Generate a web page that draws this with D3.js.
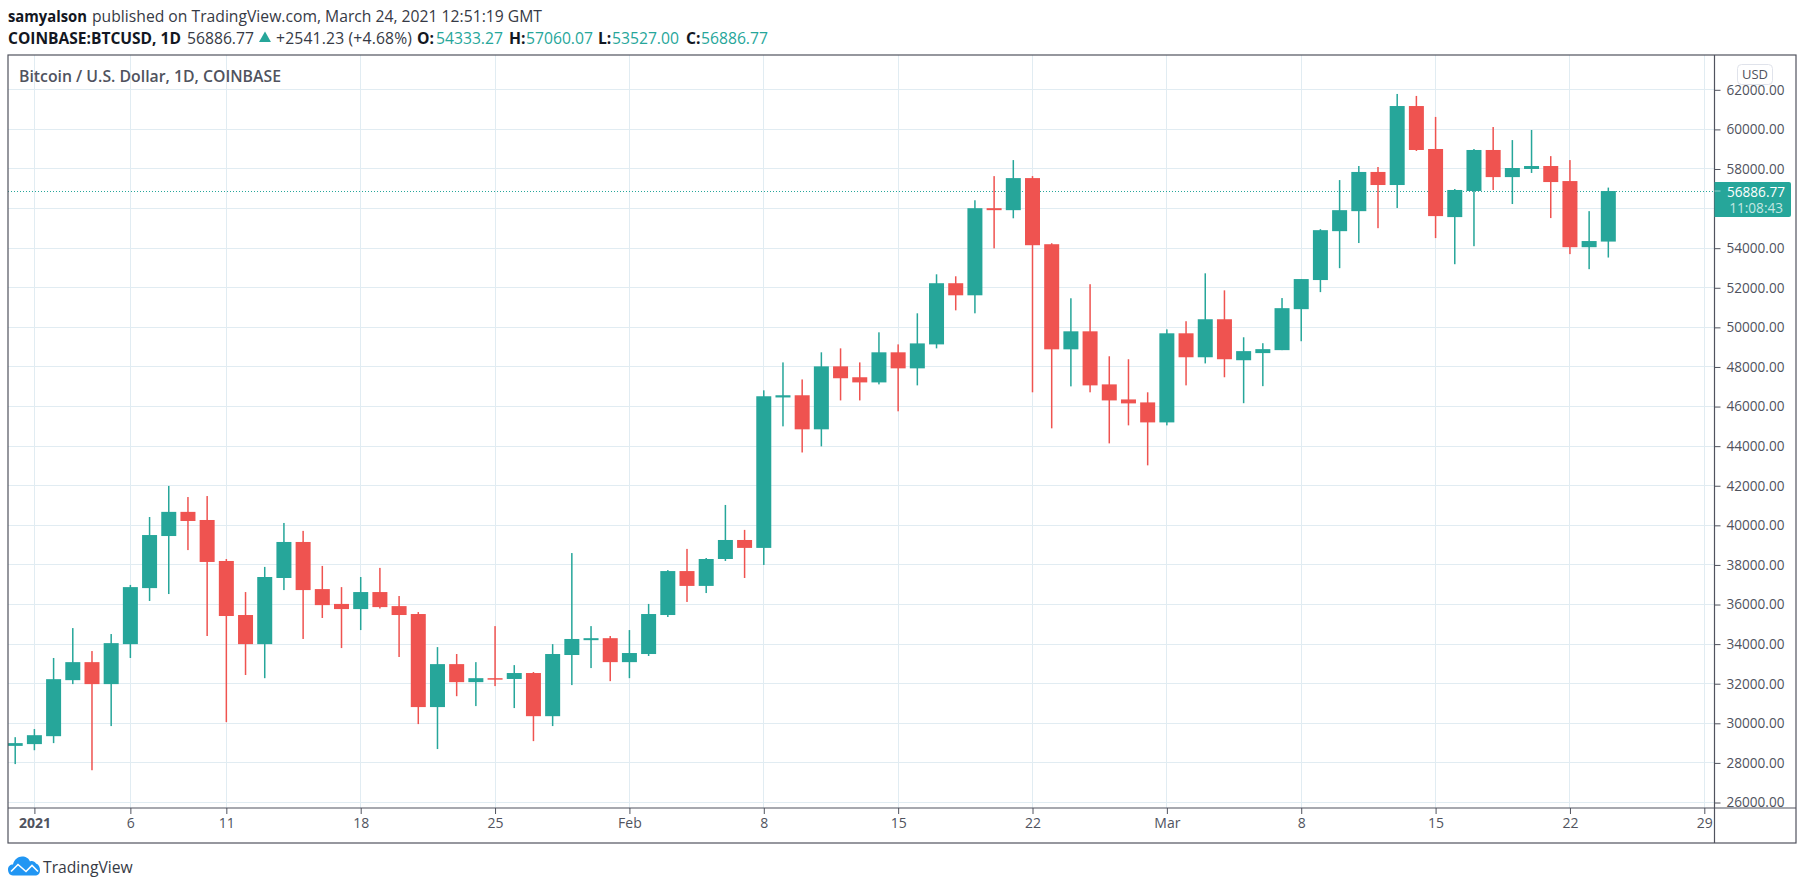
<!DOCTYPE html>
<html>
<head>
<meta charset="utf-8">
<title>BTCUSD</title>
<script src="https://d3js.org/d3.v7.min.js"></script>
<style>
  html, body { margin: 0; padding: 0; background: #fff; }
  svg { display: block; }
  text { font-family: "Open Sans", sans-serif; }
</style>
</head>
<body>
<svg id="chart" width="1805" height="890"></svg>
<script>
// Daily candles, 31 Dec 2020 to 24 Mar 2021, one entry per day
const firstDay = "2020-12-31";
const opens = [
  28860, 28950, 29350, 32180, 33090, 31980, 34000, 36830, 39460, 40680, 40270, 38200, 35470, 34000, 37340, 39160,
  36780, 36030, 35770, 36630, 35920, 35520, 30820, 32990, 32080, 32280, 32240, 32540, 30360, 33450, 34200, 34300,
  33090, 33500, 35470, 37690, 36940, 38300, 39260, 38860, 46460, 46570, 44850, 48030, 47480, 47220, 48740, 47930,
  49140, 52230, 51620, 56020, 55920, 57540, 54200, 48890, 49800, 47120, 46360, 46210, 45200, 49700, 48490, 50410,
  48340, 48700, 48850, 50920, 52390, 54860, 55870, 57850, 57190, 61180, 59010, 55570, 56890, 58960, 57590, 58000,
  58150, 57390, 54050, 54333.27
];
const highs = [
  29300, 29710, 33300, 34810, 33650, 34510, 36990, 40420, 41990, 41430, 41480, 38300, 36630, 37900, 40120, 39720,
  37950, 36880, 37390, 37850, 36430, 35620, 33850, 33500, 33090, 34910, 32940, 32590, 34000, 38600, 34910, 34410,
  34710, 36030, 37740, 38810, 38350, 41030, 39770, 46820, 48230, 47370, 48740, 48940, 48230, 49750, 49140, 50710,
  52680, 52580, 56420, 57640, 58450, 57640, 54250, 51470, 52180, 48540, 48390, 46720, 49900, 50310, 52730, 51870,
  49500, 49200, 51480, 52440, 54960, 57440, 58150, 58100, 61790, 61690, 60630, 56990, 59010, 60120, 59460, 59970,
  58650, 58450, 55870, 57060.07
];
const lows = [
  27940, 28640, 29000, 31980, 27630, 29860, 33300, 36180, 36530, 38750, 34410, 30060, 32440, 32280, 36730, 34260,
  35320, 33800, 34710, 35800, 33350, 29960, 28700, 31370, 30870, 31880, 30770, 29100, 29860, 31930, 32790, 32130,
  32280, 33400, 35370, 36130, 36580, 38200, 37340, 38000, 45000, 43680, 43990, 46310, 46310, 47120, 45760, 47070,
  48940, 50860, 50710, 53990, 55510, 46720, 44900, 47020, 46720, 44140, 45050, 43030, 45050, 47070, 48180, 47480,
  46170, 47030, 48850, 49300, 51780, 52990, 54260, 55010, 56030, 58910, 54510, 53190, 54100, 56940, 56230, 57800,
  55520, 53700, 52940, 53527
];
const closes = [
  29000, 29400, 32230, 33090, 31980, 34050, 36880, 39510, 40680, 40220, 38150, 35420, 34000, 37390, 39160, 36730,
  35970, 35770, 36630, 35870, 35470, 30820, 32990, 32080, 32280, 32230, 32540, 30360, 33500, 34260, 34300, 33090,
  33550, 35520, 37690, 36940, 38300, 39260, 38860, 46520, 46570, 44850, 48030, 47430, 47220, 48740, 47930, 49190,
  52230, 51620, 56020, 55920, 57540, 54150, 48890, 49800, 47070, 46310, 46160, 45200, 49700, 48490, 50410, 48390,
  48800, 48900, 50970, 52440, 54910, 55920, 57850, 57190, 61180, 58960, 55620, 56940, 58960, 57590, 58050, 58150,
  57340, 54050, 54360, 56886.77
];

const priceTicks = [26000, 28000, 30000, 32000, 34000, 36000, 38000, 40000, 42000, 44000, 46000, 48000, 50000, 52000, 54000, 56000, 58000, 60000, 62000];
const priceLabels = [26000, 28000, 30000, 32000, 34000, 36000, 38000, 40000, 42000, 44000, 46000, 48000, 50000, 52000, 54000, 58000, 60000, 62000];
const dateTicks = ["2021-01-01", "2021-01-06", "2021-01-11", "2021-01-18", "2021-01-25", "2021-02-01", "2021-02-08", "2021-02-15", "2021-02-22", "2021-03-01", "2021-03-08", "2021-03-15", "2021-03-22", "2021-03-29"];
const dateLabels = ["2021", "6", "11", "18", "25", "Feb", "8", "15", "22", "Mar", "8", "15", "22", "29"];

const lastPrice = 56886.77;
const countdown = "11:08:43";

const upColor = "#26a69a";
const downColor = "#ef5350";
const gridColor = "#e1ecf2";
const frameColor = "#50535e";

// Chart frame
const left = 8, top_ = 55, right = 1714.5, bottom = 808, frameRight = 1796, frameBottom = 843;

const parseDay = d3.utcParse("%Y-%m-%d");

const x = d3.scaleUtc()
  .domain([parseDay("2021-01-01"), parseDay("2021-03-29")])
  .range([34.4, 1704.3]);

const y = d3.scaleLinear()
  .domain([26000, 62000])
  .range([802.5, 89.8]);

const candles = opens.map((o, i) => ({
  day: d3.utcDay.offset(parseDay(firstDay), i),
  open: o,
  high: highs[i],
  low: lows[i],
  close: closes[i],
}));

const svg = d3.select("#chart");

svg.append("clipPath").attr("id", "plot")
  .append("rect")
  .attr("x", left).attr("y", top_)
  .attr("width", right - left).attr("height", bottom - top_);

// Grid lines
const grid = svg.append("g").attr("stroke", gridColor).attr("stroke-width", 1).attr("shape-rendering", "crispEdges");
grid.selectAll(".h").data(priceTicks).join("line")
  .attr("x1", left).attr("x2", right)
  .attr("y1", (d) => y(d)).attr("y2", (d) => y(d));
grid.selectAll(".v").data(dateTicks).join("line")
  .attr("x1", (d) => x(parseDay(d))).attr("x2", (d) => x(parseDay(d)))
  .attr("y1", top_).attr("y2", bottom);

// Last price dotted line
svg.append("line")
  .attr("x1", left).attr("x2", right)
  .attr("y1", y(lastPrice)).attr("y2", y(lastPrice))
  .attr("stroke", upColor)
  .attr("stroke-width", 1)
  .attr("stroke-dasharray", "1 2")
  .attr("shape-rendering", "crispEdges");

// Candles
const candleWidth = 15;
const plot = svg.append("g").attr("clip-path", "url(#plot)");
const candle = plot.selectAll("g").data(candles).join("g")
  .attr("fill", (d) => (d.close >= d.open ? upColor : downColor));

candle.append("rect")
  .attr("x", (d) => x(d.day) - 0.75)
  .attr("width", 1.5)
  .attr("y", (d) => y(d.high))
  .attr("height", (d) => y(d.low) - y(d.high));

candle.append("rect")
  .attr("x", (d) => x(d.day) - candleWidth / 2)
  .attr("width", candleWidth)
  .attr("y", (d) => y(Math.max(d.open, d.close)))
  .attr("height", (d) => Math.max(1.5, Math.abs(d.open - d.close) * (y(0) - y(1))));

// Price axis
const yAxis = d3.axisRight(y)
  .tickValues(priceLabels)
  .tickSize(6)
  .tickPadding(6)
  .tickFormat((d) => d3.format(".2f")(d));

const yAxisG = svg.append("g").attr("transform", `translate(${right},0)`).call(yAxis);
yAxisG.select(".domain").remove();
yAxisG.selectAll("line").attr("stroke", frameColor);
yAxisG.selectAll("text").attr("fill", frameColor).style("font-size", "13.6px");

// Date axis
const xAxis = d3.axisBottom(x)
  .tickValues(dateTicks.map(parseDay))
  .tickSize(6)
  .tickPadding(4)
  .tickFormat((d, i) => dateLabels[i]);

const xAxisG = svg.append("g").attr("transform", `translate(0,${bottom})`).call(xAxis);
xAxisG.select(".domain").remove();
xAxisG.selectAll("line").attr("stroke", frameColor);
xAxisG.selectAll("text").attr("fill", frameColor).style("font-size", "14px");
xAxisG.selectAll("text").filter((d, i) => i === 0).style("font-weight", 700);

// Frame
const frame = svg.append("g").attr("stroke", frameColor).attr("stroke-width", 1.2).attr("fill", "none");
frame.append("rect").attr("x", left).attr("y", top_).attr("width", frameRight - left).attr("height", frameBottom - top_);
frame.append("line").attr("x1", right).attr("x2", right).attr("y1", top_).attr("y2", frameBottom);
frame.append("line").attr("x1", left).attr("x2", frameRight).attr("y1", bottom).attr("y2", bottom);

// Last price tag
const tagY = y(lastPrice);
svg.append("path")
  .attr("d", `M${right},${tagY - 9}H1789a2,2 0 0 1 2,2V${tagY + 24}a2,2 0 0 1 -2,2H${right}Z`)
  .attr("fill", upColor);
svg.append("line")
  .attr("x1", right).attr("x2", right + 6)
  .attr("y1", tagY).attr("y2", tagY)
  .attr("stroke", "#fff").attr("stroke-opacity", 0.5);
svg.append("text")
  .attr("x", 1785).attr("y", tagY + 6)
  .attr("text-anchor", "end")
  .attr("fill", "#fff")
  .style("font-size", "13.6px")
  .text(d3.format(".2f")(lastPrice));
svg.append("text")
  .attr("x", 1783).attr("y", tagY + 22)
  .attr("text-anchor", "end")
  .attr("fill", "#c4e6e2")
  .style("font-size", "13.6px")
  .text(countdown);

// Currency button
const usd = svg.append("g");
usd.append("rect")
  .attr("x", 1737.5).attr("y", 64.5)
  .attr("width", 35).attr("height", 20)
  .attr("rx", 4)
  .attr("fill", "#fff")
  .attr("fill-opacity", 0.85)
  .attr("stroke", "#e0e3eb");
usd.append("text")
  .attr("x", 1755).attr("y", 79)
  .attr("text-anchor", "middle")
  .attr("fill", frameColor)
  .style("font-size", "13px")
  .text("USD");

// Title inside the chart
svg.append("text")
  .attr("x", 19).attr("y", 82)
  .attr("fill", frameColor)
  .style("font-size", "15.8px")
  .style("font-weight", 600)
  .text("Bitcoin / U.S. Dollar, 1D, COINBASE");

// Header lines
const headerText = (xPos, yPos, str, fill, bold) =>
  svg.append("text")
    .attr("x", xPos).attr("y", yPos)
    .attr("fill", fill)
    .style("font-size", "15.7px")
    .style("font-weight", bold ? 700 : 400)
    .text(str);

headerText(8, 22, "samyalson", "#131722", true).attr("textLength", 79).attr("lengthAdjust", "spacingAndGlyphs");
headerText(92, 22, "published on TradingView.com, March 24, 2021 12:51:19 GMT", "#363a45", false).attr("textLength", 450);

headerText(8, 44, "COINBASE:BTCUSD, 1D", "#131722", true).attr("textLength", 173).attr("lengthAdjust", "spacingAndGlyphs");
headerText(187, 44, "56886.77", "#363a45", false);
headerText(276, 44, "+2541.23 (+4.68%)", "#363a45", false).attr("textLength", 136);
svg.append("path")
  .attr("d", d3.symbol(d3.symbolTriangle, 62))
  .attr("transform", "translate(265,38.5)")
  .attr("fill", upColor);

headerText(417, 44, "O:", "#131722", true);
headerText(436, 44, "54333.27", upColor, false);
headerText(509, 44, "H:", "#131722", true);
headerText(526, 44, "57060.07", upColor, false);
headerText(598, 44, "L:", "#131722", true);
headerText(612, 44, "53527.00", upColor, false);
headerText(686, 44, "C:", "#131722", true);
headerText(701, 44, "56886.77", upColor, false);

// TradingView logo
const logo = svg.append("g").attr("transform", "translate(8,856.5)");
logo.append("path")
  .attr("d", "M5,19C1,19 0,15 0,13C0,10 2,8 5,8C6,3 10,0 14,0C18,0 21,2 22,5C24,4 27,5 28,7C31,8 32,11 32,14C32,17 30,19 27,19Z")
  .attr("fill", "#2196f3");
logo.append("path")
  .attr("d", "M3,15L10,8L18,15L24,9L30,15")
  .attr("fill", "none")
  .attr("stroke", "#fff")
  .attr("stroke-width", 1.6);
svg.append("text")
  .attr("x", 43).attr("y", 873)
  .attr("fill", "#363a45")
  .style("font-size", "15.7px")
  .text("TradingView");
</script>
</body>
</html>
